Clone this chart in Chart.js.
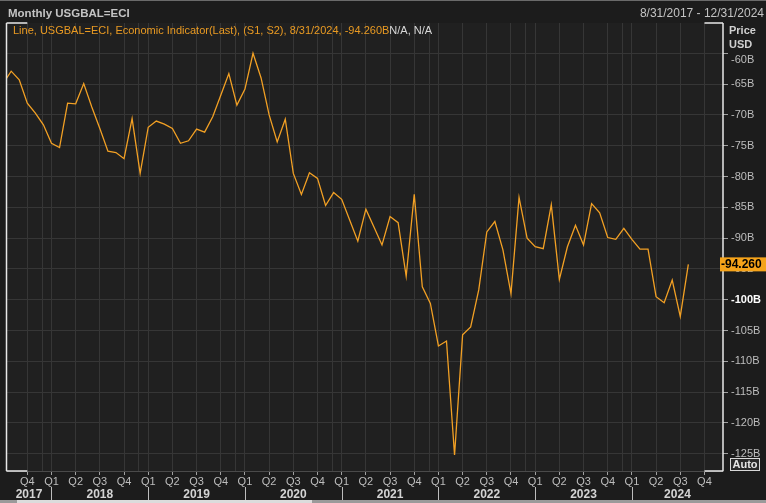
<!DOCTYPE html>
<html>
<head>
<meta charset="utf-8">
<script src="https://cdn.jsdelivr.net/npm/chart.js@4/dist/chart.umd.min.js"></script>
<style>
html, body { margin: 0; padding: 0; background: #1c1c1c; }
#wrap { position: relative; width: 766px; height: 503px; }
</style>
</head>
<body>
<div id="wrap"><canvas id="usgbal" width="766" height="503"></canvas></div>
<script>
// monthly goods balance, USD bn (Jul 2017 only feeds the clipped first segment)
var months = [
    '2017-07','2017-08','2017-09','2017-10','2017-11','2017-12',
    '2018-01','2018-02','2018-03','2018-04','2018-05','2018-06','2018-07','2018-08','2018-09','2018-10','2018-11','2018-12',
    '2019-01','2019-02','2019-03','2019-04','2019-05','2019-06','2019-07','2019-08','2019-09','2019-10','2019-11','2019-12',
    '2020-01','2020-02','2020-03','2020-04','2020-05','2020-06','2020-07','2020-08','2020-09','2020-10','2020-11','2020-12',
    '2021-01','2021-02','2021-03','2021-04','2021-05','2021-06','2021-07','2021-08','2021-09','2021-10','2021-11','2021-12',
    '2022-01','2022-02','2022-03','2022-04','2022-05','2022-06','2022-07','2022-08','2022-09','2022-10','2022-11','2022-12',
    '2023-01','2023-02','2023-03','2023-04','2023-05','2023-06','2023-07','2023-08','2023-09','2023-10','2023-11','2023-12',
    '2024-01','2024-02','2024-03','2024-04','2024-05','2024-06','2024-07','2024-08'
];
var balance = [
    -64.9, -62.9, -64.3, -68.1, -69.7, -71.6,
    -74.6, -75.3, -68.1, -68.2, -64.9, -68.7, -72.2, -75.9, -76.1, -77.1, -70.6, -79.5,
    -72.0, -71.0, -71.5, -72.2, -74.6, -74.2, -72.3, -72.8, -70.3, -66.8, -63.3, -68.4,
    -65.8, -60.0, -64.0, -70.0, -74.4, -70.7, -79.5, -82.9, -79.4, -80.3, -84.7, -82.6,
    -83.7, -87.1, -90.5, -85.3, -88.2, -91.1, -86.5, -87.5, -96.2, -82.9, -97.9, -100.6,
    -107.5, -106.7, -125.2, -105.7, -104.4, -98.4, -89.0, -87.3, -91.9, -99.0, -83.4, -90.0,
    -91.4, -91.7, -84.6, -96.7, -91.4, -87.9, -91.1, -84.4, -85.9, -89.9, -90.2, -88.4,
    -90.2, -91.8, -91.8, -99.5, -100.5, -96.8, -102.7, -94.26
];
var yearLabels = ['2017', '2018', '2019', '2020', '2021', '2022', '2023', '2024'];
var quarterNames = ['Q1', 'Q2', 'Q3', 'Q4'];
var yTicks = [-60, -65, -70, -75, -80, -85, -90, -95, -100, -105, -110, -115, -120, -125];

var FONT = '"Liberation Sans", Arial, sans-serif';

function monthIndex(s) {
    var p = s.split('-');
    return (parseInt(p[0], 10) - 2017) * 12 + (parseInt(p[1], 10) - 7);
}

// quarter starts Q4 2017 .. Q4 2024, plus the faint late-November lines
var quarterTicks = [];
for (var q = monthIndex('2017-10'); q <= monthIndex('2024-10'); q += 3) quarterTicks.push(q);
var extraLines = [];
for (var y = 2017; y <= 2023; y++) extraLines.push(monthIndex(y + '-11') + 0.84);
var gridMarks = quarterTicks.concat(extraLines).sort(function (a, b) { return a - b; });

function isQuarter(v) { return Math.abs(v - Math.round(v)) < 0.01; }
function quarterLabel(v) {
    if (!isQuarter(v)) return '';
    var mon = ((Math.round(v) + 6) % 12); // 0 = Jan
    return quarterNames[Math.floor(mon / 3)];
}

var points = months.map(function (m, i) { return { x: monthIndex(m), y: balance[i] }; });
var lastValue = balance[balance.length - 1];

var framePlugin = {
    id: 'frame',
    beforeDraw: function (chart) {
        var c = chart.ctx, a = chart.chartArea;
        c.save();
        c.fillStyle = '#1c1c1c';
        c.fillRect(0, 0, chart.width, chart.height);
        c.fillStyle = '#202020';
        c.fillRect(a.left, a.top, a.right - a.left, a.bottom - a.top);
        c.fillStyle = '#6a6a6a';
        c.fillRect(0, 0, chart.width, 1);
        // header
        c.textBaseline = 'middle';
        c.fillStyle = '#c4c4c4';
        c.font = 'bold 11.5px ' + FONT;
        c.textAlign = 'left';
        c.fillText('Monthly USGBAL=ECI', 8, 14);
        c.font = '12px ' + FONT;
        c.textAlign = 'right';
        c.fillText('8/31/2017 - 12/31/2024', 764, 14);
        c.restore();
    },
    afterDraw: function (chart) {
        var c = chart.ctx, a = chart.chartArea;
        var xs = chart.scales.x, ys = chart.scales.y;
        var firstQ = xs.getPixelForValue(quarterTicks[0]);
        var lastQ = xs.getPixelForValue(quarterTicks[quarterTicks.length - 1]);
        c.save();
        // white frame pieces
        c.strokeStyle = '#e8e8e8';
        c.lineWidth = 1.5;
        c.beginPath();
        c.moveTo(a.left, a.top); c.lineTo(a.left, a.bottom);
        c.moveTo(a.right, a.top); c.lineTo(a.right, a.bottom);
        c.moveTo(a.left, a.top); c.lineTo(firstQ, a.top);
        c.moveTo(lastQ, a.top); c.lineTo(a.right, a.top);
        c.moveTo(a.left, a.bottom); c.lineTo(firstQ, a.bottom);
        c.moveTo(lastQ, a.bottom); c.lineTo(a.right, a.bottom);
        c.stroke();

        // series legend inside plot
        var legendText = 'Line, USGBAL=ECI, Economic Indicator(Last), (S1, S2), 8/31/2024, -94.260B';
        c.textBaseline = 'middle';
        c.textAlign = 'left';
        c.font = '11px ' + FONT;
        c.fillStyle = '#e99a22';
        c.fillText(legendText, 13, 31);
        var w = c.measureText(legendText).width;
        c.fillStyle = '#d8d8d8';
        c.fillText('N/A, N/A', 13 + w, 31);

        // axis title
        c.font = 'bold 11px ' + FONT;
        c.fillStyle = '#d0d0d0';
        c.fillText('Price', 729, 31);
        c.fillText('USD', 729, 45);

        // years row
        var yearStarts = yearLabels.map(function (yr) { return monthIndex(yr + '-01'); });
        c.strokeStyle = '#bdbdbd';
        c.lineWidth = 1;
        c.font = 'bold 12px ' + FONT;
        c.fillStyle = '#d4d4d4';
        c.textAlign = 'center';
        for (var i = 0; i < yearLabels.length; i++) {
            var x0 = Math.max(xs.getPixelForValue(yearStarts[i]), a.left);
            var x1 = Math.min(xs.getPixelForValue(yearStarts[i] + 12), a.right);
            if (i > 0) {
                var sx = Math.round(xs.getPixelForValue(yearStarts[i])) + 0.5;
                c.beginPath(); c.moveTo(sx, 487); c.lineTo(sx, 501); c.stroke();
            }
            c.fillText(yearLabels[i], (x0 + x1) / 2, 495);
        }

        // last value flag
        var ly = ys.getPixelForValue(lastValue);
        c.fillStyle = '#f5a31a';
        c.fillRect(720, ly - 7, 46, 14);
        c.fillStyle = '#000000';
        c.font = 'bold 12px ' + FONT;
        c.textAlign = 'left';
        c.fillText(lastValue.toFixed(3), 721, ly + 0.5);

        // Auto button
        c.fillStyle = '#2a2a2a';
        c.fillRect(730.5, 458.5, 29, 12);
        c.strokeStyle = '#d8d8d8';
        c.strokeRect(730.5, 458.5, 29, 12);
        c.fillStyle = '#e6e6e6';
        c.font = 'bold 11px ' + FONT;
        c.textAlign = 'center';
        c.fillText('Auto', 745, 465);

        // scrollbar strip
        c.fillStyle = '#9a9a9a';
        c.fillRect(0, 500, 766, 3);
        c.fillStyle = '#dcdcdc';
        c.fillRect(17, 500, 295, 3);
        c.restore();
    }
};

new Chart(document.getElementById('usgbal').getContext('2d'), {
    type: 'line',
    data: {
        datasets: [{
            data: points,
            borderColor: '#f2a024',
            borderWidth: 1.3,
            pointRadius: 0,
            tension: 0,
            fill: false
        }]
    },
    options: {
        responsive: false,
        animation: false,
        layout: { padding: { top: 23, left: 6.5, right: 0, bottom: 0 } },
        plugins: { legend: { display: false }, tooltip: { enabled: false } },
        scales: {
            x: {
                type: 'linear',
                min: 0.42,
                max: 89.3,
                afterBuildTicks: function (s) { s.ticks = gridMarks.map(function (v) { return { value: v }; }); },
                afterFit: function (s) { s.height = 32; },
                ticks: {
                    autoSkip: false,
                    maxRotation: 0,
                    padding: 0,
                    color: '#bdbdbd',
                    font: { family: FONT, size: 11 },
                    callback: function (v) { return quarterLabel(v); }
                },
                grid: {
                    color: '#363636',
                    tickLength: 4,
                    tickColor: function (ctx) { return ctx.tick && isQuarter(ctx.tick.value) ? '#a0a0a0' : 'rgba(0,0,0,0)'; }
                },
                border: { color: '#4a4a4a' }
            },
            y: {
                position: 'right',
                min: -127.8,
                max: -55.08,
                afterBuildTicks: function (s) { s.ticks = yTicks.map(function (v) { return { value: v }; }); },
                afterFit: function (s) { s.width = 43; },
                ticks: {
                    padding: 3,
                    color: function (ctx) { return ctx.tick && ctx.tick.value === -100 ? '#ffffff' : '#bdbdbd'; },
                    font: function (ctx) {
                        return { family: FONT, size: 11, weight: ctx.tick && ctx.tick.value === -100 ? 'bold' : 'normal' };
                    },
                    // top label sits a little lower so it clears the "USD" title
                    callback: function (v) { return v === yTicks[0] ? ['', v + 'B'] : v + 'B'; }
                },
                grid: { color: '#363636', tickLength: 5, tickColor: '#a0a0a0' },
                border: { display: false }
            }
        }
    },
    plugins: [framePlugin]
});
</script>
</body>
</html>
